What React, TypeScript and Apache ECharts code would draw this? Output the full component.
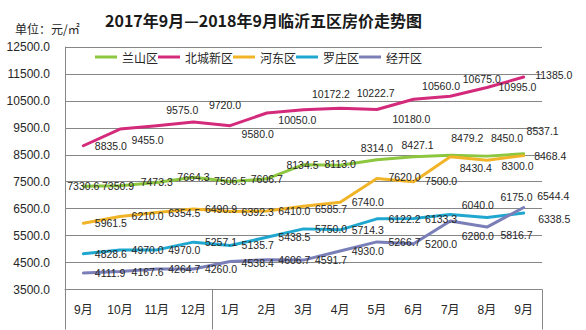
import React, { useEffect, useRef } from "react";
import * as echarts from "echarts";

// ---- data ----
const categories = ["9月", "10月", "11月", "12月", "1月", "2月", "3月", "4月", "5月", "6月", "7月", "8月", "9月"];
const seriesNames = ["兰山区", "北城新区", "河东区", "罗庄区", "经开区"];
const lanshan = [7330.6, 7350.9, 7473.3, 7664.3, 7506.5, 7606.7, 8134.5, 8113.0, 8314.0, 8427.1, 8479.2, 8450.0, 8537.1];
const beicheng = [8835.0, 9455.0, 9575.0, 9720.0, 9580.0, 10050.0, 10172.2, 10222.7, 10180.0, 10560.0, 10675.0, 10995.0, 11385.0];
const hedong = [5961.5, 6210.0, 6354.5, 6490.9, 6392.3, 6410.0, 6585.7, 6740.0, 7620.0, 7500.0, 8430.4, 8300.0, 8468.4];
const luozhuang = [4828.6, 4970.0, 4970.0, 5257.1, 5135.7, 5438.5, 5750.0, 5714.3, 6122.2, 6133.3, 6280.0, 6175.0, 6338.5];
const jingkai = [4111.9, 4167.6, 4264.7, 4260.0, 4538.4, 4606.7, 4591.7, 4930.0, 5266.7, 5200.0, 6040.0, 5816.7, 6544.4];
const yMin = 3500;
const yMax = 12500;
const yStep = 1000;

// ---- label placement nudges (layout only) ----
const lanshanNudge = [[0, 0], [-2, 0], [0, 0], [0, 0], [0, -1], [0, 0], [-1, 0], [0, -1], [0, -12], [4, -12], [17, -17], [20, -18], [19, -23]];
const beichengNudge = [[0, 0], [0, 11], [-2, -16], [4, -17], [0, 8], [0, 7], [-3, -16], [5, -15], [4, 9], [-3, -13], [1, -17], [0, -1], [0, -2]];
const hedongNudge = [[0, 0], [0, 0], [0, 0], [0, 0], [0, 0], [0, 0], [0, 3], [0, 0], [0, -1], [0, -1], [-2, 11], [3, 6], [-1, 0]];
const luozhuangNudge = [[0, 0], [0, 0], [0, 0], [0, 0], [0, 0], [0, 0], [0, 0], [0, 0], [0, 0], [0, 0], [0, 21], [2, -20], [3, 6]];
const jingkaiNudge = [[0, 0], [0, 0], [0, 0], [0, 0], [0, 1], [0, 0], [0, 0], [0, 0], [0, 0], [0, 0], [0, -16], [2, 8], [2, -11]];

const colors = ["#8DC63F", "#D42A7B", "#F1B428", "#20A7D0", "#7A7FB8"];

export default function App() {
  const ref = useRef<HTMLDivElement>(null);
  useEffect(() => {
    if (!ref.current) return;
    const chart = echarts.init(ref.current, null, { renderer: "svg" });
    const labelFont = { fontFamily: "Liberation Sans, Arial, sans-serif", fontSize: 10.5, color: "#262626" };
    const mk = (name: string, values: number[], nudge: number[][], color: string, centered: boolean) => ({
      name,
      type: "line",
      xAxisIndex: 0,
      yAxisIndex: 0,
      symbol: "circle",
      symbolSize: 1,
      showSymbol: true,
      itemStyle: { color },
      lineStyle: { color, width: 3, join: "round", cap: "round" },
      label: {
        show: true,
        position: centered ? "inside" : "right",
        distance: 11,
        formatter: (p: any) => Number(p.value).toFixed(1),
        ...labelFont,
      },
      data: values.map((v, i) => ({ value: v, label: { offset: nudge[i] } })),
    });
    chart.setOption({
      animation: false,
      backgroundColor: "#ffffff",
      title: [
        {
          text: "2017年9月—2018年9月临沂五区房价走势图",
          left: 100,
          top: 7,
          textStyle: { fontFamily: "Noto Sans CJK SC", fontWeight: "bold", fontSize: 16, color: "#1a1a1a" },
        },
        {
          text: "单位：元/㎡",
          left: 10,
          top: 17,
          textStyle: { fontFamily: "Noto Sans CJK SC", fontWeight: "normal", fontSize: 12, color: "#262626" },
        },
      ],
      legend: {
        data: seriesNames,
        left: 90,
        top: 46,
        icon: "rect",
        itemWidth: 22,
        itemHeight: 3,
        itemGap: 0,
        textStyle: { fontFamily: "Noto Sans CJK SC", fontSize: 12, color: "#262626" },
      },
      grid: { left: 65, right: 44, top: 47, bottom: 40.5, containLabel: false, outerBoundsMode: "none" },
      xAxis: [
        {
          type: "category",
          data: categories,
          boundaryGap: true,
          axisLine: { show: true, lineStyle: { color: "#868686", width: 1 } },
          axisTick: { show: false },
          axisLabel: {
            interval: 0,
            margin: 14,
            fontFamily: "Liberation Sans, Noto Sans CJK SC",
            fontSize: 12,
            color: "#262626",
          },
          splitLine: { show: false },
        },
        {
          type: "value",
          position: "bottom",
          min: 0,
          max: 13,
          axisLine: { show: false },
          axisLabel: { show: false },
          splitLine: { show: false },
          axisTick: {
            show: true,
            customValues: [0, 4, 13],
            length: 40,
            lineStyle: { color: "#868686", width: 1 },
          },
        },
      ],
      yAxis: {
        type: "value",
        min: yMin,
        max: yMax,
        interval: yStep,
        axisLine: { show: true, lineStyle: { color: "#868686", width: 1 } },
        axisTick: { show: false },
        axisLabel: {
          margin: 15,
          formatter: (v: number) => v.toFixed(1),
          fontFamily: "Liberation Sans, Arial, sans-serif",
          fontSize: 12,
          color: "#262626",
        },
        splitLine: { show: true, lineStyle: { color: "#868686", width: 1 } },
      },
      series: [
        mk(seriesNames[0], lanshan, lanshanNudge, colors[0], true),
        mk(seriesNames[1], beicheng, beichengNudge, colors[1], false),
        mk(seriesNames[2], hedong, hedongNudge, colors[2], false),
        mk(seriesNames[3], luozhuang, luozhuangNudge, colors[3], false),
        mk(seriesNames[4], jingkai, jingkaiNudge, colors[4], false),
      ],
    });
    return () => chart.dispose();
  }, []);
  return <div ref={ref} style={{ position: "fixed", left: 0, top: 0, width: 586, height: 330 }} />;
}
